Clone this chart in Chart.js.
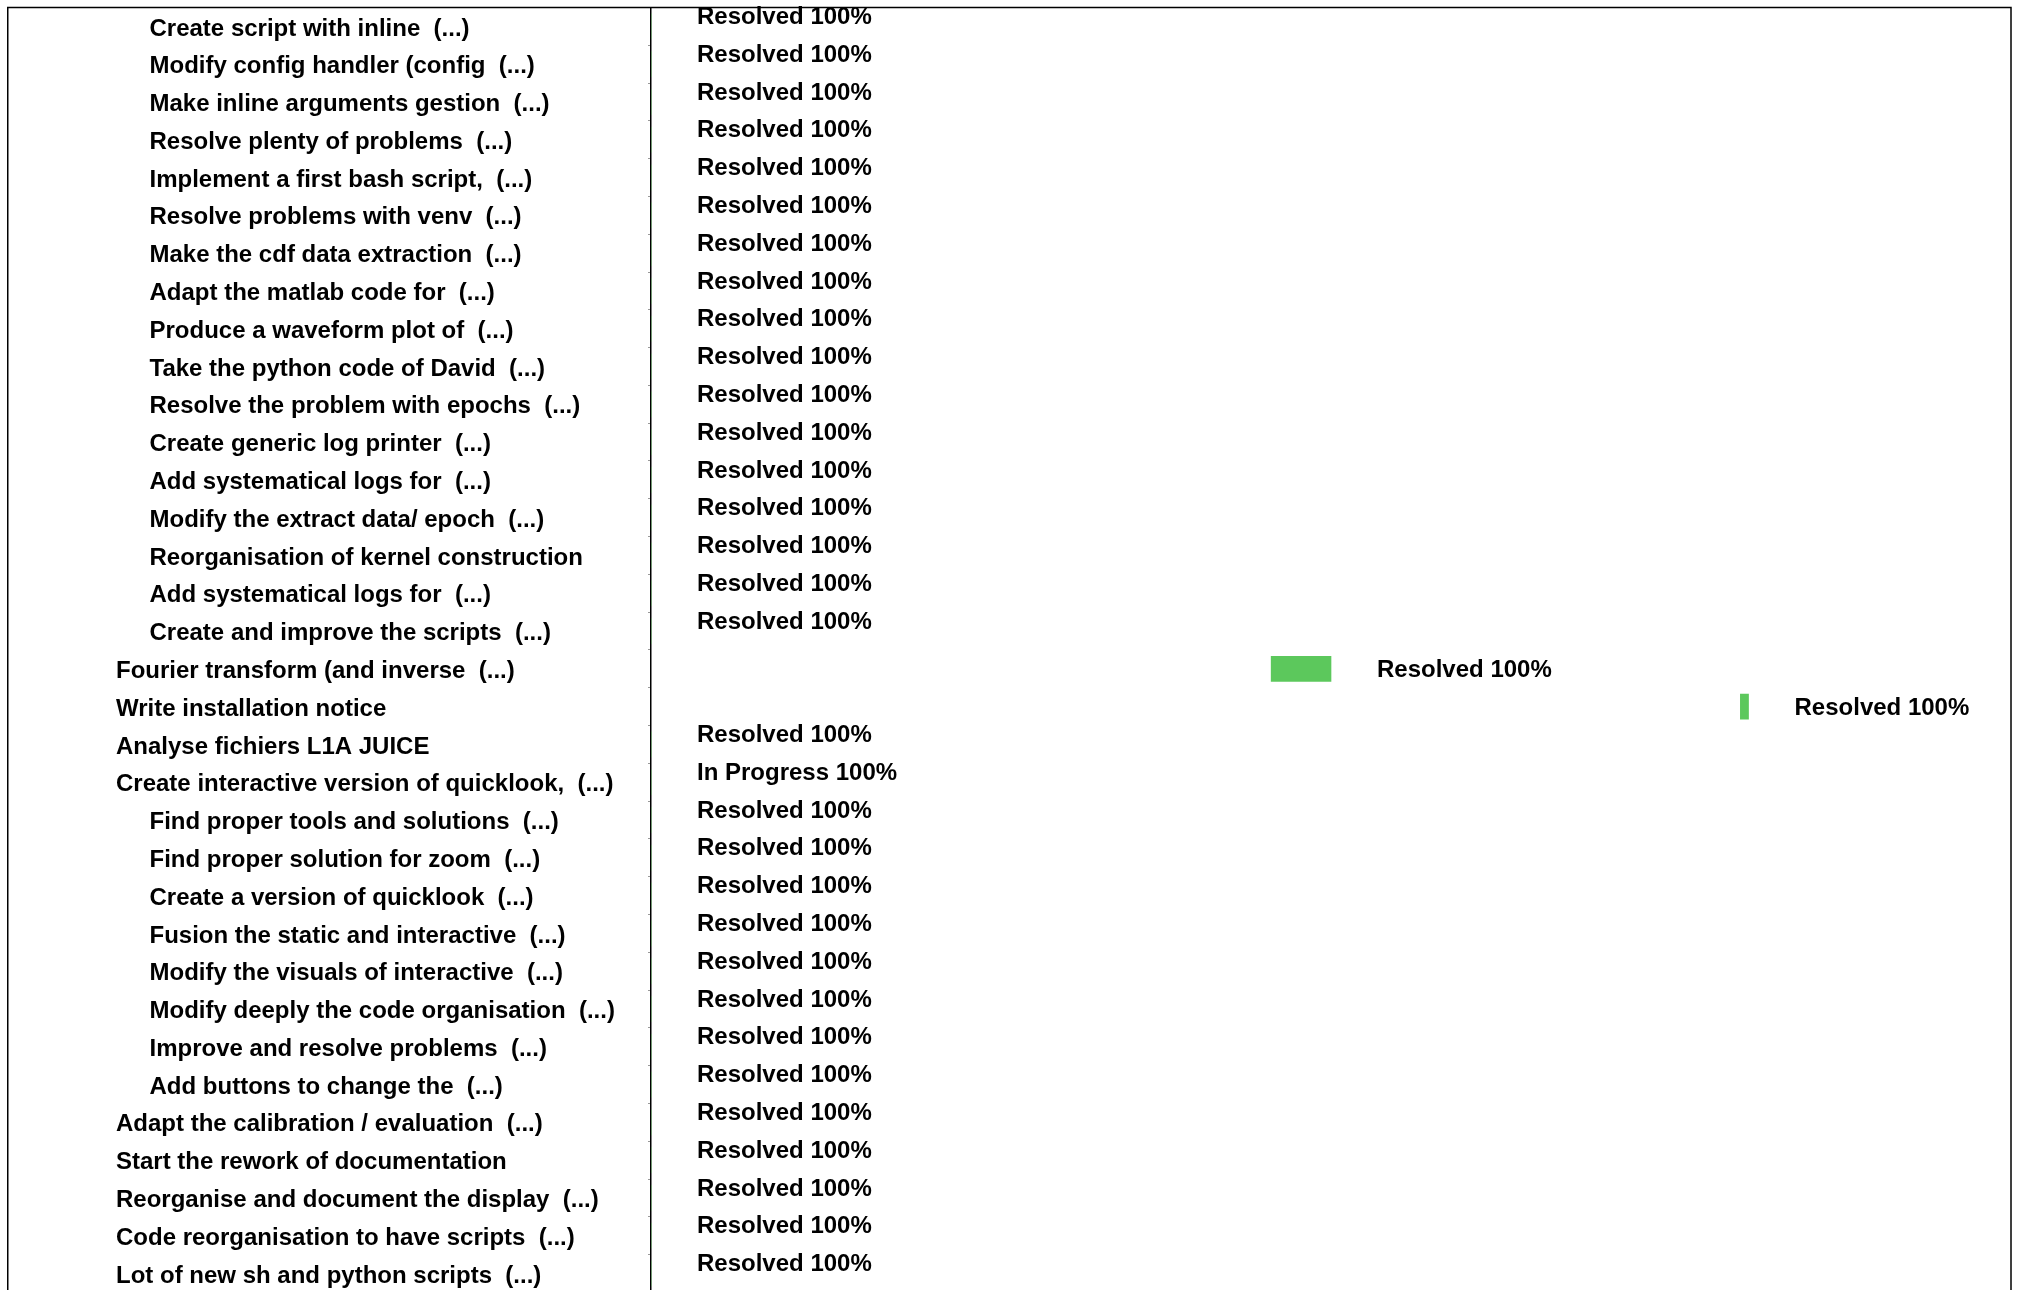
<!DOCTYPE html>
<html>
<head>
<meta charset="utf-8">
<title>Task timeline</title>
<script src="https://cdn.jsdelivr.net/npm/chart.js@4.4.1/dist/chart.umd.min.js"></script>
<style>
    html, body { margin:0; padding:0; background:#fff; overflow:hidden; }
    canvas { display:block; }
</style>
</head>
<body>
<canvas id="gantt" width="2020" height="1300"></canvas>
<script>

// -----------------------
// DATA
// -----------------------

const taskLabels = [
    "Create script with inline  (...)",
    "Modify config handler (config  (...)",
    "Make inline arguments gestion  (...)",
    "Resolve plenty of problems  (...)",
    "Implement a first bash script,  (...)",
    "Resolve problems with venv  (...)",
    "Make the cdf data extraction  (...)",
    "Adapt the matlab code for  (...)",
    "Produce a waveform plot of  (...)",
    "Take the python code of David  (...)",
    "Resolve the problem with epochs  (...)",
    "Create generic log printer  (...)",
    "Add systematical logs for  (...)",
    "Modify the extract data/ epoch  (...)",
    "Reorganisation of kernel construction",
    "Add systematical logs for  (...)",
    "Create and improve the scripts  (...)",
    "Fourier transform (and inverse  (...)",
    "Write installation notice",
    "Analyse fichiers L1A JUICE",
    "Create interactive version of quicklook,  (...)",
    "Find proper tools and solutions  (...)",
    "Find proper solution for zoom  (...)",
    "Create a version of quicklook  (...)",
    "Fusion the static and interactive  (...)",
    "Modify the visuals of interactive  (...)",
    "Modify deeply the code organisation  (...)",
    "Improve and resolve problems  (...)",
    "Add buttons to change the  (...)",
    "Adapt the calibration / evaluation  (...)",
    "Start the rework of documentation",
    "Reorganise and document the display  (...)",
    "Code reorganisation to have scripts  (...)",
    "Lot of new sh and python scripts  (...)"
];

// 1 = subtask (indented), 0 = top level task
const taskDepth = [
    1,1,1,1,1,1,1,1,1,1,1,1,1,1,1,1,1,
    0,0,0,0,
    1,1,1,1,1,1,1,1,
    0,0,0,0,0
];

// days from the start of the visible window
const taskStart = [
    0,0,0,0,0,0,0,0,0,0,0,0,0,0,0,0,0,
    45.6,80.1,
    0,0,0,0,0,0,0,0,0,0,0,0,0,0,0
];
const taskEnd = [
    0,0,0,0,0,0,0,0,0,0,0,0,0,0,0,0,0,
    50.0,80.7,
    0,0,0,0,0,0,0,0,0,0,0,0,0,0,0
];

const taskStatus = taskLabels.map((_, i) => i === 20 ? "In Progress" : "Resolved");
const taskProgress = taskLabels.map(() => 100);

const windowDays = [0, 100];

// -----------------------
// PLUGINS
// -----------------------

const FONT = "bold 24px 'Liberation Sans', Arial, Helvetica, sans-serif";

// task names on the left panel, indented by depth
const taskNamesPlugin = {
    id: 'taskNames',
    afterDraw(chart){
        const ctx = chart.ctx;
        const y = chart.scales.y;
        ctx.save();
        ctx.font = FONT;
        ctx.fillStyle = '#000';
        ctx.textAlign = 'left';
        ctx.textBaseline = 'middle';
        taskLabels.forEach((name, i) => {
            const x = taskDepth[i] ? 149.5 : 116;
            ctx.fillText(name, x, y.getPixelForValue(i) + 2.5);
        });
        ctx.restore();
    }
};

// "Resolved 100%" after each bar
const statusPlugin = {
    id: 'statusText',
    afterDatasetsDraw(chart){
        const ctx = chart.ctx;
        const xs = chart.scales.x;
        const bars = chart.getDatasetMeta(0).data;
        ctx.save();
        ctx.font = FONT;
        ctx.fillStyle = '#000';
        ctx.textAlign = 'left';
        ctx.textBaseline = 'middle';
        bars.forEach((bar, i) => {
            const visible = taskEnd[i] > xs.min;
            const endPx = Math.max(xs.getPixelForValue(taskEnd[i]), chart.chartArea.left);
            const ty = bar.y + (visible ? 2 : -9);
            ctx.fillText(taskStatus[i] + ' ' + taskProgress[i] + '%', endPx + 46, ty);
        });
        ctx.restore();
    }
};

// outer frame around label panel + plot
const framePlugin = {
    id: 'frame',
    afterDraw(chart){
        const { ctx, chartArea } = chart;
        ctx.save();
        ctx.strokeStyle = '#000';
        ctx.lineWidth = 1.5;
        ctx.strokeRect(7.75, chartArea.top, chartArea.right - 7.75, chartArea.bottom - chartArea.top);
        ctx.restore();
    }
};

// -----------------------
// CHART
// -----------------------

const ctx = document.getElementById('gantt').getContext('2d');

new Chart(ctx, {
    type: 'bar',
    data: {
        labels: taskLabels,
        datasets: [{
            data: taskStart.map((s, i) => [s, taskEnd[i]]),
            backgroundColor: '#5cc85c',
            borderWidth: 0,
            barThickness: 25
        }]
    },
    options: {
        indexAxis: 'y',
        responsive: false,
        animation: false,
        devicePixelRatio: 1,
        layout: { padding: { left: 8, top: 7.5, right: 9, bottom: 7.6 } },
        scales: {
            x: {
                type: 'linear',
                min: windowDays[0],
                max: windowDays[1],
                display: false
            },
            y: {
                type: 'category',
                offset: true,
                ticks: { display: false },
                grid: {
                    offset: true,
                    drawOnChartArea: false,
                    drawTicks: true,
                    tickLength: 3,
                    color: '#999'
                },
                border: { display: true, color: '#000', width: 1.5 },
                afterFit(scale){ scale.width = 643; }
            }
        },
        plugins: {
            legend: { display: false },
            tooltip: { enabled: false }
        }
    },
    plugins: [framePlugin, taskNamesPlugin, statusPlugin]
});

</script>
</body>
</html>
